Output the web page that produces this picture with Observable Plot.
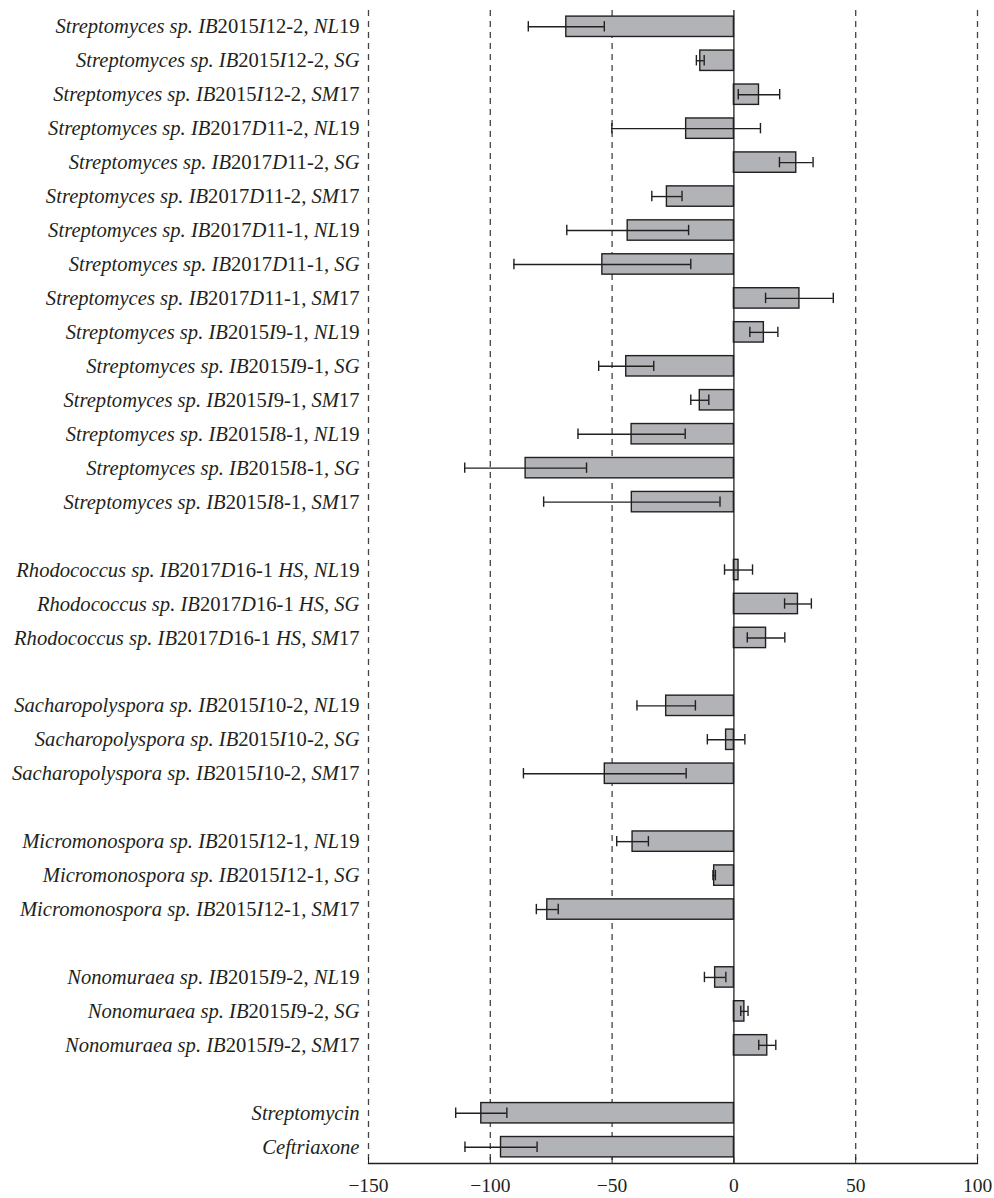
<!DOCTYPE html>
<html>
<head>
<meta charset="utf-8">
<script src="https://cdn.jsdelivr.net/npm/d3@7"></script>
<script src="https://cdn.jsdelivr.net/npm/@observablehq/plot@0.6"></script>
<style>
html, body { margin: 0; padding: 0; background: #fff; overflow: hidden; }
</style>
</head>
<body>
<div id="chart"></div>
<script>
const categories = [
  "Streptomyces sp. IB2015I12-2, NL19",
  "Streptomyces sp. IB2015I12-2, SG",
  "Streptomyces sp. IB2015I12-2, SM17",
  "Streptomyces sp. IB2017D11-2, NL19",
  "Streptomyces sp. IB2017D11-2, SG",
  "Streptomyces sp. IB2017D11-2, SM17",
  "Streptomyces sp. IB2017D11-1, NL19",
  "Streptomyces sp. IB2017D11-1, SG",
  "Streptomyces sp. IB2017D11-1, SM17",
  "Streptomyces sp. IB2015I9-1, NL19",
  "Streptomyces sp. IB2015I9-1, SG",
  "Streptomyces sp. IB2015I9-1, SM17",
  "Streptomyces sp. IB2015I8-1, NL19",
  "Streptomyces sp. IB2015I8-1, SG",
  "Streptomyces sp. IB2015I8-1, SM17",
  "Rhodococcus sp. IB2017D16-1 HS, NL19",
  "Rhodococcus sp. IB2017D16-1 HS, SG",
  "Rhodococcus sp. IB2017D16-1 HS, SM17",
  "Sacharopolyspora sp. IB2015I10-2, NL19",
  "Sacharopolyspora sp. IB2015I10-2, SG",
  "Sacharopolyspora sp. IB2015I10-2, SM17",
  "Micromonospora sp. IB2015I12-1, NL19",
  "Micromonospora sp. IB2015I12-1, SG",
  "Micromonospora sp. IB2015I12-1, SM17",
  "Nonomuraea sp. IB2015I9-2, NL19",
  "Nonomuraea sp. IB2015I9-2, SG",
  "Nonomuraea sp. IB2015I9-2, SM17",
  "Streptomycin",
  "Ceftriaxone"
];
const groupSizes = [15, 3, 3, 3, 3, 2];
const values = [-68.8, -13.8, 10.3, -19.6, 25.6, -27.5, -43.6, -54.0, 26.9, 12.3, -44.2, -14.0, -42.0, -85.5, -41.9,
                1.9, 26.3, 13.2,
                -27.8, -3.2, -53.0,
                -41.6, -8.1, -76.6,
                -7.7, 4.3, 13.7,
                -103.7, -95.6];
const errors = [15.6, 1.6, 8.5, 30.5, 6.9, 6.2, 25.0, 36.3, 13.9, 5.75, 11.3, 3.7, 22.0, 25.0, 36.2,
                5.75, 5.5, 7.7,
                12.0, 7.7, 33.4,
                6.5, 0.5, 4.5,
                4.4, 1.5, 3.5,
                10.5, 14.8];
const xTicks = [-150, -100, -50, 0, 50, 100];
const dashedLines = [-150, -100, -50, 50, 100];

// Build the y domain with blank spacer rows between groups
const domain = [];
let idx = 0;
groupSizes.forEach((n, g) => {
  if (g > 0) domain.push("gap" + g);
  for (let i = 0; i < n; i++) domain.push(categories[idx++]);
});

const data = categories.map((c, i) => ({
  label: c,
  value: values[i],
  lo: values[i] - errors[i],
  hi: values[i] + errors[i]
}));

const plot = Plot.plot({
  width: 994,
  height: 1198,
  marginLeft: 368,
  marginRight: 17,
  marginTop: 10,
  marginBottom: 35,
  style: {fontFamily: "'Liberation Serif', 'Times New Roman', serif", fontSize: "20px", color: "#231f20", background: "#fff"},
  x: {domain: [-150, 100], ticks: xTicks},
  y: {domain, paddingInner: 0.4, paddingOuter: 0.18},
  marks: [
    Plot.ruleX(dashedLines, {stroke: "#444", strokeWidth: 1.3, strokeDasharray: "6,5"}),
    Plot.barX(data, {x: "value", y: "label", fill: "#b2b3b6", stroke: "#231f20", strokeWidth: 1.4}),
    Plot.ruleX([0], {stroke: "#231f20", strokeWidth: 1.3}),
    Plot.ruleY(data, {y: "label", x1: "lo", x2: "hi", stroke: "#231f20", strokeWidth: 1.4}),
    Plot.tickX(data, {x: "lo", y: "label", stroke: "#231f20", strokeWidth: 1.4, insetTop: 5, insetBottom: 5}),
    Plot.tickX(data, {x: "hi", y: "label", stroke: "#231f20", strokeWidth: 1.4, insetTop: 5, insetBottom: 5}),
    Plot.frame({anchor: "bottom", stroke: "#231f20", strokeWidth: 1.3}),
    Plot.axisX(xTicks, {tickSize: -6, tickPadding: 21, label: null, stroke: "#231f20", fill: "#231f20", fontSize: 19.5, tickFormat: d => d < 0 ? "\u2212" + Math.abs(d) : String(d)}),
    Plot.axisY({tickSize: 0, tickPadding: 9, label: null, fontSize: 20.6, fontStyle: "italic", fill: "#231f20",
      tickFormat: d => d.startsWith("gap") ? "" : d})
  ]
});
document.getElementById("chart").appendChild(plot);

// Make digits upright (roman) within italic labels, as in the original typesetting
d3.select(plot).selectAll('g[aria-label="y-axis tick label"] text').each(function() {
  const t = this.textContent;
  if (!t) return;
  const sel = d3.select(this);
  sel.text(null);
  t.split(/(\d+)/).filter(s => s.length).forEach(part => {
    const ts = sel.append("tspan").text(part);
    if (/^\d+$/.test(part)) ts.attr("font-style", "normal");
  });
});
</script>
</body>
</html>
